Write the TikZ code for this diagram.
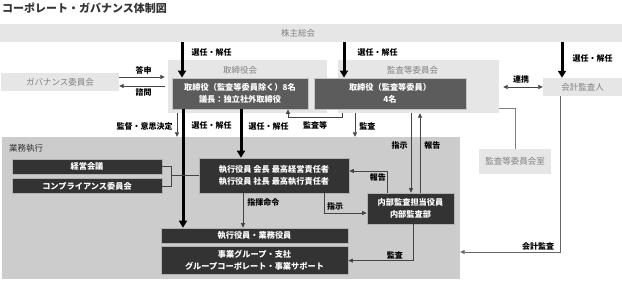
\documentclass[tikz,border=0pt]{standalone}
\usepackage{fontspec}
\setmainfont{Noto Sans CJK JP}
\usepackage{tikz}
\usetikzlibrary{arrows.meta, positioning, calc}
\definecolor{paleg}{HTML}{E6E6E6}
\definecolor{regiong}{HTML}{CCCCCC}
\definecolor{midg}{HTML}{5C5C5C}
\definecolor{deepg}{HTML}{333333}
\definecolor{textg}{HTML}{808080}
\definecolor{lineg}{HTML}{444444}
\newcommand{\lblfont}{\fontsize{8}{9}\selectfont\bfseries}
\newcommand{\boxfont}{\fontsize{8.2}{12}\selectfont\bfseries}
\begin{document}
\begin{tikzpicture}[
    x=1pt, y=-1pt,
    node distance=4pt,
    pale/.style={fill=paleg, text=textg, inner sep=0pt, font=\fontsize{8.5}{10}\selectfont},
    paletext/.style={text=textg, inner sep=0pt, font=\fontsize{8.5}{10}\selectfont},
    board/.style={fill=midg, draw=gray!45, line width=0.8pt, text=white,
                  align=center, inner sep=0pt, font=\boxfont},
    exec/.style={fill=deepg, draw=gray!60, line width=0.6pt, text=white,
                 align=center, inner sep=0pt, font=\boxfont},
    lbl/.style={inner sep=1pt, font=\lblfont, text=black},
    arr/.style={draw=lineg, line width=0.7pt, -{Triangle[length=4.5pt,width=4pt]}},
    link/.style={draw=lineg, line width=0.7pt},
    bigarr/.style={line width=3pt, -{Triangle[length=7pt,width=8pt]}},
]
\useasboundingbox (0,0) rectangle (622,281);

\node[anchor=west, inner sep=0pt, text=deepg, font=\fontsize{11}{12}\selectfont\bfseries]
    (title) at (2,8) {コーポレート・ガバナンス体制図};

\node[pale, minimum width=622pt, minimum height=18pt] (agm) at (311,33) {};
\node[paletext] (agmtext) at (298,33) {株主総会};
\node[pale, minimum width=118pt, minimum height=18pt] (gov) at (60,82) {ガバナンス委員会};
\node[pale, minimum width=159pt, minimum height=53pt] (bod) at (247.5,86.5) {};
\node[paletext] (bodtitle) at (240,70) {取締役会};
\node[pale, minimum width=161pt, minimum height=53pt] (acm) at (418.5,86.5) {};
\node[paletext] (acmtitle) at (412.5,70) {監査等委員会};
\node[board, minimum width=136pt, minimum height=31pt] (dir) at (240,93.5)
    {取締役（監査等委員除く）8名\\議長：独立社外取締役};
\node[board, minimum width=152pt, minimum height=31pt] (acd) at (390,93.5)
    {取締役（監査等委員）\\4名};
\node[pale, minimum width=79pt, minimum height=18pt] (aud) at (582.5,87) {会計監査人};
\node[pale, minimum width=72pt, minimum height=25pt] (room) at (515,161.5) {監査等委員会室};

\node[fill=regiong, minimum width=458pt, minimum height=142pt, inner sep=0pt] (biz) at (231,208) {};
\node[anchor=west, inner sep=0pt, text=deepg, font=\fontsize{8.5}{10}\selectfont] (biztitle) at (9,148) {業務執行};
\node[exec, minimum width=150pt, minimum height=15pt] (mgmt) at (87,166.5) {経営会議};
\node[exec, minimum width=150pt, minimum height=15pt, below=4pt of mgmt] (comp) {コンプライアンス委員会};
\node[exec, minimum width=150pt, minimum height=35pt] (ceo) at (274,175.5)
    {執行役員\ 会長\ 最高経営責任者\\執行役員\ 社長\ 最高執行責任者};
\node[exec, minimum width=87pt, minimum height=31pt] (iad) at (410.5,208.5)
    {内部監査担当役員\\内部監査部};
\node[exec, minimum width=187pt, minimum height=15pt] (off) at (254.5,235.5) {執行役員・業務役員};
\node[exec, minimum width=187pt, minimum height=28pt, below=3pt of off] (grp)
    {事業グループ・支社\\グループコーポレート・事業サポート};

\draw[bigarr] (agm.south -| 182,0) -- node[lbl, pos=.28, right=7pt] (sel1) {選任・解任} (dir.north -| 182,0);
\draw[bigarr] (agm.south -| 344,0) -- node[lbl, pos=.28, right=11pt] (sel2) {選任・解任} (acd.north -| 344,0);
\draw[bigarr] (agm.south -| 562,0) -- node[lbl, pos=.45, right=8pt] (sel3) {選任・解任} (aud.north -| 562,0);
\draw[bigarr] (dir.south -| 183,0) -- node[lbl, pos=.14, right=6pt] (sel4) {選任・解任} (off.north -| 183,0);
\draw[bigarr] (dir.south -| 241,0) -- node[lbl, pos=.35, right=5pt] (sel5) {選任・解任} (ceo.north -| 241,0);

\draw[arr, shorten >=3pt] ([yshift=5pt]gov.east) -- node[lbl, above=1pt] (rep) {答申} ([yshift=5pt]gov.east -| bod.west);
\draw[arr, shorten <=3pt] ([yshift=-4pt]gov.east -| bod.west) -- node[lbl, below=1pt] (ask) {諮問} ([yshift=-4pt]gov.east);

\draw[arr] (bod.south -| 177,0) -- node[lbl, pos=.55, left=3pt] (sup) {監督・意思決定} (biz.north -| 177,0);
\draw[arr] (acm.south -| 342,0) -- ++(0,4) -- node[lbl, below=3pt] (aud1) {監査等} ++(-54,0) -- (dir.south -| 288,0);
\draw[arr] (acm.south -| 355,0) -- node[lbl, pos=.55, right=3pt] (aud2) {監査} (biz.north -| 355,0);
\draw[arr] (acm.south -| 411,0) -- node[lbl, pos=.4, left=2pt] (ins1) {指示} (iad.north -| 411,0);
\draw[arr] (iad.north -| 420,0) -- node[lbl, pos=.6, right=3pt] (rpt1) {報告} (acm.south -| 420,0);
\draw[arr, {Triangle[length=4.5pt,width=4pt]}-{Triangle[length=4.5pt,width=4pt]}, shorten <=4pt]
    (acm.east |- aud.west) -- node[lbl, above=2pt] (coop) {連携} (aud.west);
\draw[link, draw=gray] ([yshift=5pt]acm.south east) -| (room.north);
\draw[arr, draw=gray!80!black] (aud.south -| 560,0) |- node[lbl, pos=.61, above=0pt] (acc) {会計監査} (biz.east |- 0,252);

\draw[link] (mgmt.east) -- ++(9,0) |- (comp.east);
\draw[link] (ceo.west) -- ++(-28,0);
\draw[arr] (ceo.south -| 243,0) -- node[lbl, pos=.26, right=3pt] (cmd) {指揮命令} (off.north -| 243,0);
\draw[arr] (iad.north -| 387,0) |- node[lbl, pos=.62, below=1pt] (rpt2) {報告} ([yshift=4.5pt]ceo.east);
\draw[arr] (ceo.south -| 324,0) |- node[lbl, pos=.63, above=1pt] (ins2) {指示} ([yshift=-4.5pt]iad.west);
\draw[arr] ([xshift=2.5pt]iad.south) |- node[lbl, pos=.64, above=0pt] (aud3) {監査} (grp.east);
\end{tikzpicture}
\end{document}
